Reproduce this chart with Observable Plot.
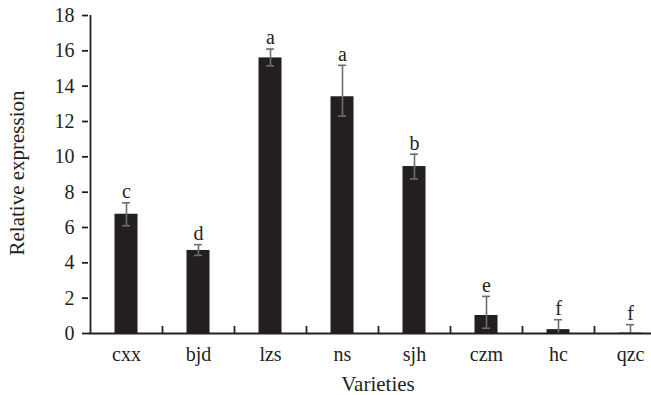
<!DOCTYPE html>
<html>
<head>
<meta charset="utf-8">
<script src="https://cdn.jsdelivr.net/npm/d3@7"></script>
<script src="https://cdn.jsdelivr.net/npm/@observablehq/plot@0.6"></script>
<style>
  html, body { margin: 0; padding: 0; background: #fff; overflow: hidden; }
  #chart svg text, #chart svg tspan { font-family: "Liberation Serif", "Times New Roman", serif; }
</style>
</head>
<body>
<div id="chart"></div>
<script>
const varieties = ["cxx", "bjd", "lzs", "ns", "sjh", "czm", "hc", "qzc"];
const means     = [6.75, 4.70, 15.60, 13.40, 9.45, 1.02, 0.22, 0.02];
const errHigh   = [7.40, 5.03, 16.10, 15.18, 10.15, 2.10, 0.78, 0.50];
const errLow    = [6.10, 4.42, 15.15, 12.30, 8.75, 0.30, 0.00, 0.00];
const letters   = ["c", "d", "a", "a", "b", "e", "f", "f"];
const yTicks    = [0, 2, 4, 6, 8, 10, 12, 14, 16, 18];
const xTitle = "Varieties";
const yTitle = "Relative expression";

const data = varieties.map((v, i) => ({
  variety: v, mean: means[i], hi: errHigh[i], lo: errLow[i], letter: letters[i]
}));

const W = 651, H = 395;
const mL = 88, mR = -16, mT = 15, mB = 62;
const step = 72;
const barW = 23, capW = 8, lw = 1.8;
const font = "Liberation Serif";
const ink = "#231f20";
const errInk = "#6e6e6e";

const chart = Plot.plot({
  width: W,
  height: H,
  marginLeft: mL,
  marginRight: mR,
  marginTop: mT,
  marginBottom: mB,
  style: { background: "#fff" },
  x: { domain: varieties, padding: 0 },
  y: { domain: [0, 18] },
  marks: [
    Plot.barY(data, {
      x: "variety", y: "mean", fill: ink,
      insetLeft: (step - barW) / 2, insetRight: (step - barW) / 2
    }),
    Plot.ruleX(data, { x: "variety", y1: "lo", y2: "hi", stroke: errInk, strokeWidth: 1.6 }),
    Plot.tickY(data, {
      x: "variety", y: "hi", stroke: errInk, strokeWidth: 1.6,
      insetLeft: (step - capW) / 2, insetRight: (step - capW) / 2
    }),
    Plot.tickY(data.filter(d => d.lo > 0), {
      x: "variety", y: "lo", stroke: errInk, strokeWidth: 1.6,
      insetLeft: (step - capW) / 2, insetRight: (step - capW) / 2
    }),
    Plot.text(data, {
      x: "variety", y: "hi", text: "letter", dy: -11, lineAnchor: "middle",
      fill: ink, fontSize: 20, fontFamily: font
    }),
    // y-axis line and x-axis separator ticks, at the left edge of each band
    Plot.ruleX(varieties, {
      x: d => d, y1: 0, y2: (d, i) => (i === 0 ? 18 : 0.4),
      dx: -step / 2, stroke: ink, strokeWidth: lw
    }),
    Plot.ruleY([0], { stroke: ink, strokeWidth: lw }),
    Plot.axisY({
      ticks: yTicks, tickSize: 6, tickPadding: 8, stroke: ink, strokeWidth: lw,
      label: null, fontSize: 20, fontFamily: font, fill: ink
    }),
    Plot.axisX({
      tickSize: 0, tickPadding: 13, label: null, fontSize: 20, fontFamily: font, fill: ink
    }),
    Plot.text([xTitle], {
      frameAnchor: "bottom", text: d => d, dy: 50.5, lineAnchor: "middle",
      fill: ink, fontSize: 21, fontFamily: font
    }),
    Plot.text([yTitle], {
      frameAnchor: "left", text: d => d, rotate: -90, dx: -71, dy: -1.5,
      textAnchor: "middle", lineAnchor: "middle", fill: ink, fontSize: 21, fontFamily: font
    })
  ]
});

document.getElementById("chart").appendChild(chart);
</script>
</body>
</html>
